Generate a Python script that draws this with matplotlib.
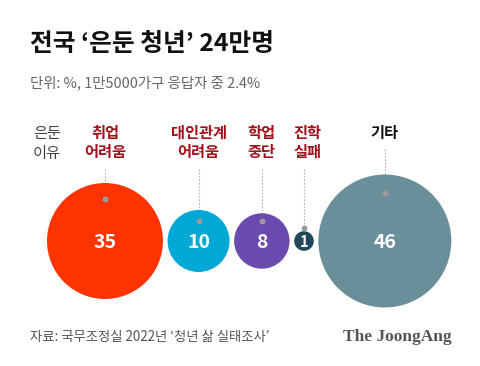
import numpy as np
import matplotlib
matplotlib.use("Agg")
import matplotlib.pyplot as plt
from matplotlib.patches import Circle

plt.rcParams['font.family'] = ['Noto Sans CJK KR', 'DejaVu Sans']

categories = ["취업\n어려움", "대인관계\n어려움", "학업\n중단", "진학\n실패", "기타"]
values = [35, 10, 8, 1, 46]
value_labels = ["35", "10", "8", "1", "46"]
colors = ["#ff3300", "#00a8d6", "#6a4aae", "#23475b", "#6b8e9b"]
label_colors = ["#a3101c", "#a3101c", "#a3101c", "#a3101c", "#111111"]

title = "전국 ‘은둔 청년’ 24만명"
subtitle = "단위: %, 1만5000가구 응답자 중 2.4%"
source = "자료: 국무조정실 2022년 ‘청년 삶 실태조사’"
brand = "The JoongAng"

W, H = 480, 366
fig = plt.figure(figsize=(W / 100, H / 100), dpi=100)
ax = fig.add_axes([0, 0, 1, 1])
ax.set_xlim(0, W)
ax.set_ylim(H, 0)
ax.set_aspect('equal')
ax.axis('off')

k = 9.8
gap = 4.6
cy = 241
left = 47
radii = [k * np.sqrt(v) for v in values]
xs = []
x = left
for r in radii:
    xs.append(x + r)
    x += 2 * r + gap

for i, (v, r, cx) in enumerate(zip(values, radii, xs)):
    ax.add_patch(Circle((cx, cy), r, color=colors[i], zorder=2, lw=0))
    fs = 14 if r > 20 else 10.5
    ax.text(cx, cy + 1, value_labels[i], color='white', fontsize=fs, fontweight='bold',
            ha='center', va='center', zorder=4)
    if r > 20:
        dy = cy - 0.72 * r if r > 40 else cy - 20
    else:
        dy = cy - r - 3
    ax.plot([cx], [dy], 'o', ms=4.2, color='#9a9a9a', zorder=5, mec='none')
    nlines = categories[i].count("\n") + 1
    top = 149 if nlines == 1 else 169
    ax.plot([cx, cx], [top, dy], ls=(0, (1.5, 1.5)), lw=0.8, color='#b0b0b0', zorder=1)
    ax.text(cx + (3 if r < 20 else 0), 125, categories[i], color=label_colors[i], fontsize=11,
            fontweight='bold', ha='center', va='top', linespacing=1.25)

ax.text(47, 125, "은둔\n이유", color='#444444', fontsize=11, ha='center', va='top',
        linespacing=1.25)

ax.text(30, 44, title, fontsize=17.8, fontweight='bold', color='#111111', ha='left', va='center')
ax.text(30, 83, subtitle, fontsize=10.4, color='#666666', ha='left', va='center')
ax.text(30, 337, source, fontsize=9.6, color='#555555', ha='left', va='center')
ax.text(452, 337, brand, fontsize=12.5, fontweight='bold', color='#555555', ha='right',
        va='center', family='Liberation Serif')

fig.savefig("out.png", dpi=100, facecolor='white')
